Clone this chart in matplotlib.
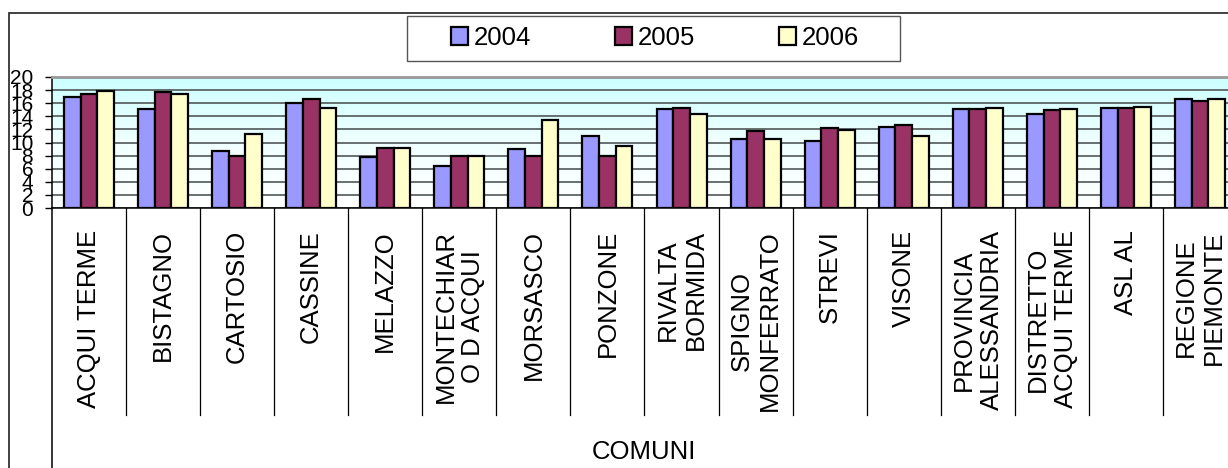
import numpy as np
import matplotlib.pyplot as plt
import matplotlib.colors as mcolors
from matplotlib.patches import Patch, Rectangle
from matplotlib.transforms import blended_transform_factory

plt.rcParams['font.family'] = ['Liberation Sans', 'DejaVu Sans']

# %%
comuni = ["ACQUI TERME", "BISTAGNO", "CARTOSIO", "CASSINE", "MELAZZO",
          "MONTECHIAR\nO D ACQUI", "MORSASCO", "PONZONE", "RIVALTA\nBORMIDA",
          "SPIGNO\nMONFERRATO", "STREVI", "VISONE", "PROVINCIA\nALESSANDRIA",
          "DISTRETTO\nACQUI TERME", "ASL AL", "REGIONE\nPIEMONTE"]
anni = ["2004", "2005", "2006"]
v2004 = [17.0, 15.1, 8.7, 16.0, 7.8, 6.45, 9.0, 10.95, 15.1, 10.5, 10.3, 12.3, 15.1, 14.35, 15.25, 16.6]
v2005 = [17.4, 17.7, 7.9, 16.6, 9.15, 7.9, 7.9, 7.9, 15.3, 11.75, 12.2, 12.7, 15.05, 15.0, 15.2, 16.4]
v2006 = [17.8, 17.4, 11.35, 15.2, 9.15, 7.9, 13.45, 9.45, 14.35, 10.5, 11.95, 10.95, 15.3, 15.1, 15.45, 16.6]
yticks = list(range(0, 21, 2))

colori = ["#9999FF", "#993366", "#FFFFCC"]
W, H = 1228, 468
FS = 18.5

# %%
fig = plt.figure(figsize=(W / 100, H / 100), dpi=100)
fig.patch.set_facecolor("white")

# outer chart border (runs off the right/bottom edge like the original)
fig.patches.append(Rectangle((8.5 / W, -0.2), 2.0, 1.2 - 13 / H, transform=fig.transFigure,
                             fill=False, ec="#333333", lw=1.3))

ax = fig.add_axes([52 / W, (H - 208) / H, 1185 / W, 131 / H])

# background gradient of the plot area
grad = np.linspace(0, 1, 256).reshape(-1, 1)
cmap = mcolors.LinearSegmentedColormap.from_list("bg", ["#FFFFFF", "#F0FFFF", "#CCFFFF"])
ax.imshow(grad, extent=[-0.5, 15.5, 0, 20], origin="lower", aspect="auto", cmap=cmap, zorder=0)

x = np.arange(len(comuni))
bw = 0.225
for k, (vals, c) in enumerate(zip([v2004, v2005, v2006], colori)):
    ax.bar(x + (k - 1) * bw, vals, bw, color=c, edgecolor="black", lw=1.6, zorder=3)

ax.set_xlim(-0.5, 15.5)
ax.set_ylim(0, 20)
ax.set_yticks(yticks)
ax.set_yticklabels([str(t) for t in yticks], fontsize=15)
ax.yaxis.grid(True, color="#505858", lw=1.2, zorder=1)
ax.set_axisbelow(True)
ax.tick_params(axis="y", direction="out", length=5, width=1, pad=8.5)

ax.set_xticks(x)
ax.set_xticklabels(comuni, rotation=90, fontsize=FS, ha="center", va="top", multialignment="center")
ax.tick_params(axis="x", length=0, pad=16)

for s in ["left", "bottom"]:
    ax.spines[s].set_color("black")
    ax.spines[s].set_linewidth(1.1)
ax.spines["top"].set_color("#999999")
ax.spines["top"].set_linewidth(2)
ax.spines["right"].set_visible(False)

# category separators under the axis
tr = blended_transform_factory(ax.transData, ax.transAxes)
for i in range(1, len(comuni)):
    ax.plot([i - 0.5, i - 0.5], [0, -207 / 131], color="black", lw=0.9, transform=tr, clip_on=False)
ax.plot([-0.5, -0.5], [0, -2.1], color="black", lw=1.1, transform=tr, clip_on=False)

fig.text(644 / W, 1 - 452 / H, "COMUNI", ha="center", va="center", fontsize=FS)

# legend
handles = [Patch(facecolor=c, edgecolor="black", lw=1.6) for c in colori]
fig.legend(handles, anni, loc="center", bbox_to_anchor=(655 / W, 1 - 38 / H), ncol=3,
           frameon=False, fontsize=FS, handlelength=0.65, handleheight=0.65,
           handletextpad=0.23, columnspacing=3.27, borderpad=0)
fig.patches.append(Rectangle((407 / W, 1 - 61 / H), 493 / W, 45 / H, transform=fig.transFigure,
                             fill=False, ec="#555555", lw=1.0))

fig.savefig("out.png", dpi=100)
